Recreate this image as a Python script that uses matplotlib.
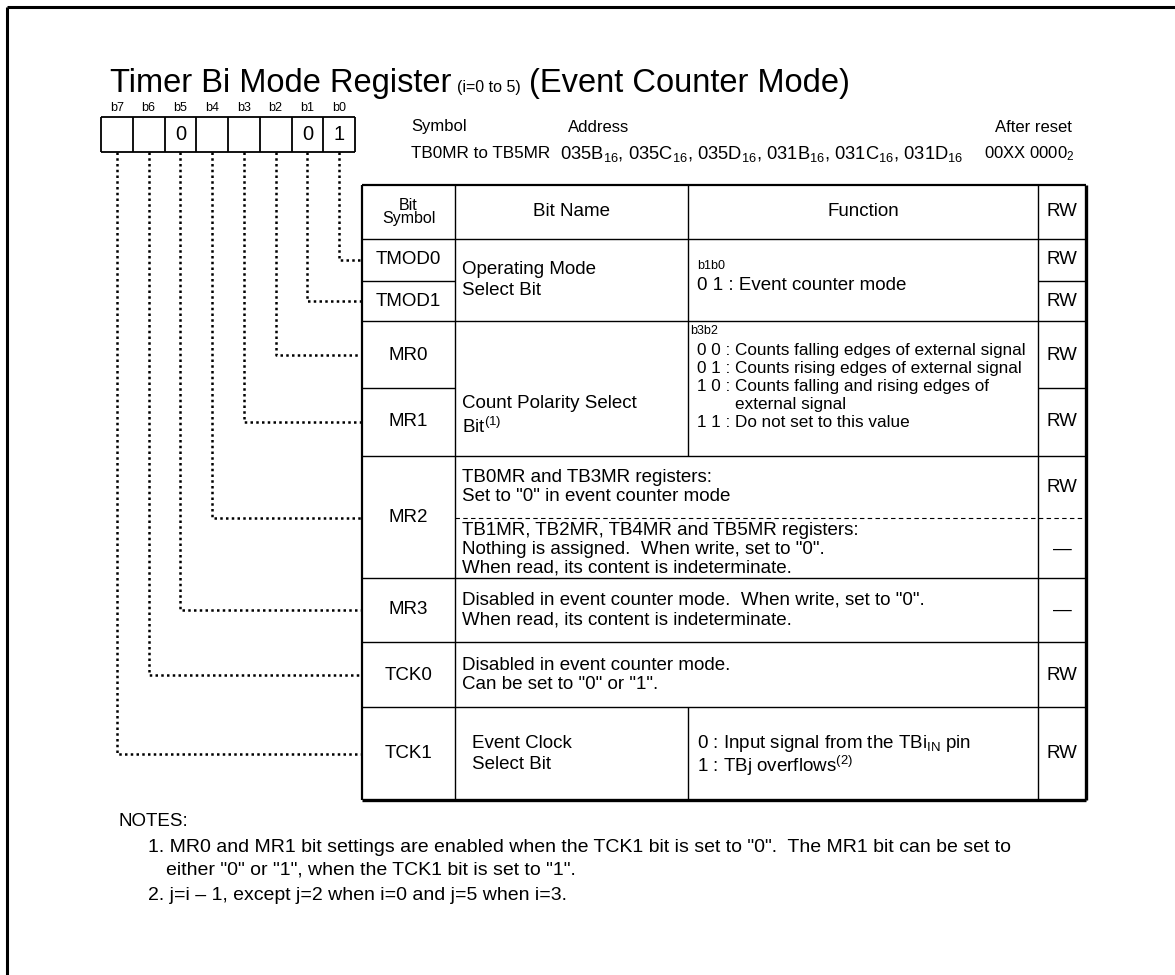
import matplotlib
matplotlib.use('Agg')
import matplotlib.pyplot as plt

plt.rcParams['font.family'] = ['Liberation Sans', 'DejaVu Sans']
plt.rcParams['mathtext.fontset'] = 'custom'
plt.rcParams['mathtext.rm'] = 'Liberation Sans'

# Register bits and their reset values
bit_labels = ['b7', 'b6', 'b5', 'b4', 'b3', 'b2', 'b1', 'b0']
bit_values = ['', '', '0', '', '', '', '0', '1']

# Table rows: symbol, RW
symbols = ['TMOD0', 'TMOD1', 'MR0', 'MR1', 'MR2', 'MR3', 'TCK0', 'TCK1']
rw_values = ['RW', 'RW', 'RW', 'RW', 'RW', '\u2014', '\u2014', 'RW', 'RW']

headers = ['Bit\nSymbol', 'Bit Name', 'Function', 'RW']

title_parts = ['Timer Bi Mode Register', '(i=0 to 5)', '(Event Counter Mode)']

mode_function = ['b1b0', '0 1 : Event counter mode']
polarity_function = ['b3b2',
                     '0 0 : Counts falling edges of external signal',
                     '0 1 : Counts rising edges of external signal',
                     '1 0 : Counts falling and rising edges of',
                     '        external signal',
                     '1 1 : Do not set to this value']
mr2_text = ['TB0MR and TB3MR registers:\nSet to "0" in event counter mode',
            'TB1MR, TB2MR, TB4MR and TB5MR registers:\nNothing is assigned.  When write, set to "0".\nWhen read, its content is indeterminate.']
mr3_text = 'Disabled in event counter mode.  When write, set to "0".\nWhen read, its content is indeterminate.'
tck0_text = 'Disabled in event counter mode.\nCan be set to "0" or "1".'
tck1_name = 'Event Clock\nSelect Bit'
tck1_function = ['0 : Input signal from the TBi$\\mathregular{_{IN}}$ pin',
                 '1 : TBj overflows$\\mathregular{^{(2)}}$']

notes = ['NOTES:',
         '1. MR0 and MR1 bit settings are enabled when the TCK1 bit is set to "0".  The MR1 bit can be set to',
         'either "0" or "1", when the TCK1 bit is set to "1".',
         '2. j=i \u2013 1, except j=2 when i=0 and j=5 when i=3.']

BODY = 13.5

fig = plt.figure(figsize=(11.75, 9.75), dpi=100)
ax = fig.add_axes([0, 0, 1, 1])
ax.set_xlim(0, 1175)
ax.set_ylim(975, 0)
ax.axis('off')

def line(x0, y0, x1, y1, lw=1.0, ls='-'):
    ax.plot([x0, x1], [y0, y1], color='black', lw=lw, ls=ls, solid_capstyle='butt')

def txt(x, y, s, size=BODY, ha='left', va='center', **kw):
    return ax.text(x, y, s, fontsize=size, ha=ha, va=va, **kw)

# outer frame (top and left only)
line(7, 7, 1175, 7, lw=2.2)
line(7, 7, 7, 975, lw=2.2)

# title, pieces placed one after another
renderer = fig.canvas.get_renderer()
x = 110
for part, size, gap in zip(title_parts, [23.5, 11.5, 23.5], [6, 8, 0]):
    t = txt(x, 92, part, size=size, va='baseline')
    bb = t.get_window_extent(renderer)
    x += bb.width + gap

# register box
bx0, bx1, by0, by1 = 101, 355, 117, 152
cw = (bx1 - bx0) / 8
for i, (lab, val) in enumerate(zip(bit_labels, bit_values)):
    cx = bx0 + cw * (i + 0.5)
    txt(cx, 108, lab, size=9, ha='center')
    if val:
        txt(cx, 135, val, size=14.5, ha='center')
for i in range(9):
    line(bx0 + cw * i, by0, bx0 + cw * i, by1, lw=1.3)
line(bx0, by0, bx1, by0, lw=1.3)
line(bx0, by1, bx1, by1, lw=1.3)

# symbol / address / reset
txt(411, 127, 'Symbol', size=12)
txt(568, 127, 'Address', size=12)
txt(1072, 127, 'After reset', size=12, ha='right')
txt(411, 154, 'TB0MR to TB5MR', size=12.3)
txt(560, 154, '035B$\\mathregular{_{16}}$, 035C$\\mathregular{_{16}}$, 035D$\\mathregular{_{16}}$, '
              '031B$\\mathregular{_{16}}$, 031C$\\mathregular{_{16}}$, 031D$\\mathregular{_{16}}$', size=13.2)
txt(1074, 154, '00XX 0000$\\mathregular{_{2}}$', size=12, ha='right')

# table geometry
c0, c1, c2, c3, c4 = 362, 455, 688, 1038, 1086
row_y = [185, 239, 281, 321, 388, 456, 578, 642, 707, 800]
mr2_split = 518

# outer box
line(c0, row_y[0], c4, row_y[0], lw=1.6)
line(c0, row_y[-1], c4, row_y[-1], lw=2.4)
line(c0, row_y[0], c0, row_y[-1], lw=1.6)
line(c4, row_y[0], c4, row_y[-1], lw=2.4)

# vertical dividers
line(c1, row_y[0], c1, row_y[-1])
line(c3, row_y[0], c3, row_y[-1])
line(c2, row_y[0], c2, row_y[5])
line(c2, row_y[8], c2, row_y[9])

# horizontal dividers
line(c0, row_y[1], c4, row_y[1])
line(c0, row_y[2], c1, row_y[2])
line(c3, row_y[2], c4, row_y[2])
line(c0, row_y[3], c4, row_y[3])
line(c0, row_y[4], c1, row_y[4])
line(c3, row_y[4], c4, row_y[4])
for k in (5, 6, 7, 8):
    line(c0, row_y[k], c4, row_y[k])
line(c1, mr2_split, c4, mr2_split, lw=0.8, ls=(0, (4, 3)))

# headers
txt((c0 + c1) / 2, 212, headers[0], size=11.5, ha='center', linespacing=0.85)
txt((c1 + c2) / 2, 212, headers[1], ha='center')
txt((c2 + c3) / 2, 212, headers[2], ha='center')
txt((c3 + c4) / 2, 212, headers[3], ha='center')

# symbol column
sym_y = [260, 301, 355, 422, 518, 610, 675, 754]
for s, y in zip(symbols, sym_y):
    txt((c0 + c1) / 2, y, s, ha='center')

# RW column
rw_y = [260, 301, 355, 422, 487, 549, 610, 675, 754]
for s, y in zip(rw_values, rw_y):
    txt((c3 + c4) / 2, y, s, ha='center')

# bit names
txt(462, 280, 'Operating Mode\nSelect Bit', linespacing=1.25)
txt(462, 416, 'Count Polarity Select\nBit$\\mathregular{^{(1)}}$', linespacing=1.25)
txt(472, 754, tck1_name, linespacing=1.25)

# functions
txt(697, 266, mode_function[0], size=9)
txt(697, 285, mode_function[1])
txt(690, 331, polarity_function[0], size=9)
for k, s in enumerate(polarity_function[1:]):
    txt(697, 351 + 17.8 * k, s, size=12.3)
txt(462, 487, mr2_text[0], linespacing=1.2)
txt(462, 549, mr2_text[1], linespacing=1.15)
txt(462, 610, mr3_text, linespacing=1.2)
txt(462, 675, tck0_text, linespacing=1.2)
txt(697, 743, tck1_function[0])
txt(697, 766, tck1_function[1])

# dotted connectors from bits to rows
for i in range(8):
    cx = bx0 + cw * (i + 0.5)
    ty = sym_y[7 - i]
    ax.plot([cx, cx, c0], [by1, ty, ty], color='black', lw=1.8,
            ls=(0, (1.0, 1.3)), solid_capstyle='butt')

# notes
txt(118, 822, notes[0])
txt(148, 848, notes[1], size=14)
txt(166, 870, notes[2], size=14)
txt(148, 896, notes[3], size=14)

fig.savefig('out.png', dpi=100, facecolor='white')
